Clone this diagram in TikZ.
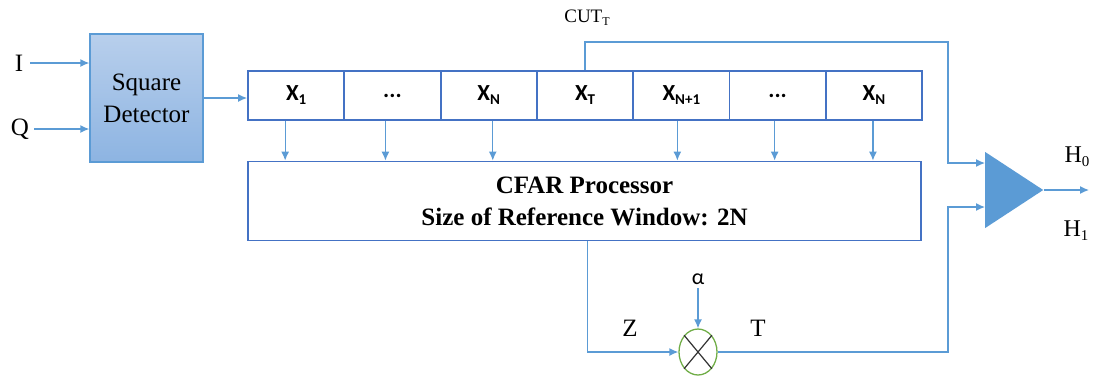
\documentclass[tikz,border=0pt]{standalone}
\usepackage{fontspec}
\setmainfont{Liberation Serif}
\newfontfamily\cellfont{Carlito}
\usetikzlibrary{positioning}
\usetikzlibrary{arrows.meta}
\usetikzlibrary{shapes.geometric}
\definecolor{lineblue}{RGB}{91,155,213}
\definecolor{boxblue}{RGB}{68,114,196}
\definecolor{multgreen}{RGB}{112,173,71}
\definecolor{sdtop}{RGB}{184,207,236}
\definecolor{sdbot}{RGB}{141,180,226}
\newcommand{\lowidx}[1]{\raisebox{-4pt}{\fontsize{15}{15}\selectfont #1}}
\newcommand{\cutidx}[1]{\raisebox{-3pt}{\fontsize{12}{12}\selectfont #1}}
\newcommand{\celldots}{...}

\tikzset{
  sig/.style={draw=lineblue, line width=1.3pt, -{Latex[length=9pt,width=8pt]}},
  cell/.style={draw=boxblue, line width=1.8pt, minimum width=96.3pt, minimum height=49pt,
    inner sep=0pt, font=\cellfont\bfseries\fontsize{23}{26}\selectfont},
  lbl/.style={font=\fontsize{25}{32}\selectfont, inner sep=1pt},
  sublbl/.style={font=\fontsize{24}{26}\selectfont, inner sep=1pt},
}

\begin{document}
\begin{tikzpicture}[x=1pt,y=-1pt]
			\useasboundingbox (0,0) rectangle (1095,376);

			% Square detector and its inputs
			\node[draw=lineblue, line width=1.3pt, top color=sdtop, bottom color=sdbot,
				minimum width=113pt, minimum height=128pt, align=center, lbl] (sqdet) at (146.5,98) {Square\\Detector};
			\node[lbl] (ilbl) at (19,63) {I};
			\node[lbl] (qlbl) at (20,129) {Q};
			\draw[sig] ([xshift=6pt]ilbl.east) -- (ilbl -| sqdet.west);
			\draw[sig] ([xshift=4pt]qlbl.east) -- (qlbl -| sqdet.west);

			% Reference cells
			\foreach \i/\txt in {1/X\lowidx{1}, 2/\celldots, 3/X\lowidx{N}, 4/X\lowidx{T}, 5/X\lowidx{N+1}, 6/\celldots, 7/X\lowidx{N}}
				\node[cell] (c\i) at ({248+96.3*(\i-0.5)},95.5) {\txt};
			\draw[sig] (sqdet.east) -- (sqdet.east -| c1.west);

			% CFAR processor
			\node[draw=boxblue, line width=1.8pt, minimum width=673pt, minimum height=79pt,
				align=center, font=\bfseries\fontsize{25}{32}\selectfont] (cfar) at (584.5,201)
				{CFAR Processor\\Size of Reference Window: 2N};
			\foreach \i/\dx in {1/-11, 2/-7, 3/4, 5/-4, 6/-3, 7/-1}
				\draw[sig] ([xshift=\dx pt]c\i.south) -- ([xshift=\dx pt]c\i.south |- cfar.north);

			% Multiplier
			\node[ellipse, draw=multgreen, line width=1.3pt, minimum width=38pt, minimum height=46pt, inner sep=0pt] (mult) at (698,352) {};
			\draw[line width=1.2pt, black!80] (mult.north west) -- (mult.south east);
			\draw[line width=1.2pt, black!80] (mult.north east) -- (mult.south west);
			\node[font=\cellfont\fontsize{22}{24}\selectfont] (alpha) at (698,279) {α};
			\node[lbl] (zlbl) at (630,328) {Z};
			\node[lbl] (tlbl) at (758,328) {T};
			\draw[sig] ([xshift=3pt]cfar.south) |- (mult.west);
			\draw[sig] (alpha.south) -- (mult.north);

			% Comparator
			\node[isosceles triangle, isosceles triangle stretches, fill=lineblue, inner sep=0pt,
				minimum width=76pt, minimum height=58pt, anchor=west] (cmp) at (985,190) {};
			\coordinate (cutturn) at (948,42);
			\coordinate (tturn) at (948,352);
			\coordinate (out) at (1089,190);
			\node[font=\fontsize{19}{22}\selectfont] (cutlbl) at (587,18) {CUT\cutidx{T}};
			\draw[sig] (c4.north) |- (cutturn) |- ([yshift=27pt]cmp.west);
			\draw[sig] (mult.east) -- (tturn) |- ([yshift=-17pt]cmp.west);
			\draw[sig] (cmp.apex) -- (out);
			\node[sublbl] (h0) at (1077,157) {H\lowidx{0}};
			\node[sublbl] (h1) at (1076,231) {H\lowidx{1}};
		\end{tikzpicture}
\end{document}
